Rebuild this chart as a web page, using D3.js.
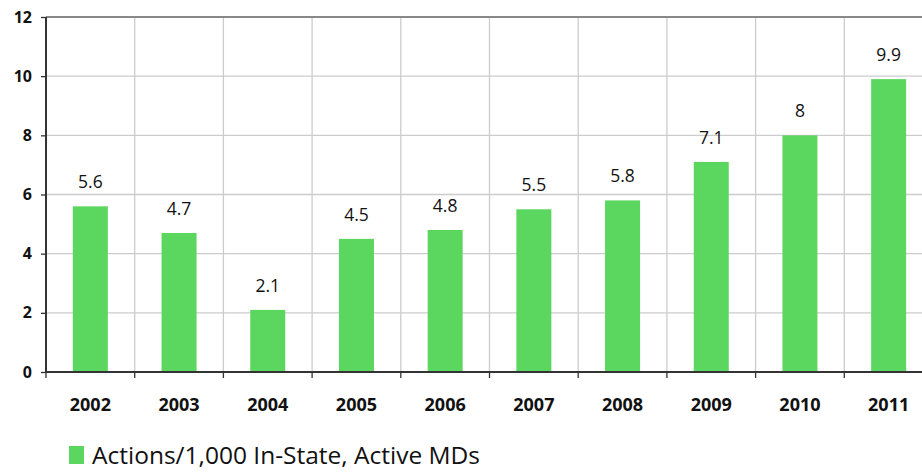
<!doctype html>
<html>
<head>
<meta charset="utf-8">
<script src="https://cdnjs.cloudflare.com/ajax/libs/d3/7.8.5/d3.min.js"></script>
<style>
  body { margin: 0; background: #fff; }
  svg { display: block; font-family: "Open Sans", "Noto Sans", sans-serif; }
</style>
</head>
<body>
<svg id="chart" width="922" height="473"></svg>
<script>
  // data
  var years = ["2002", "2003", "2004", "2005", "2006", "2007", "2008", "2009", "2010", "2011"];
  var actions = [5.6, 4.7, 2.1, 4.5, 4.8, 5.5, 5.8, 7.1, 8, 9.9];
  var yTicks = [0, 2, 4, 6, 8, 10, 12];
  var seriesName = "Actions/1,000 In-State, Active MDs";

  var svg = d3.select("#chart");
  // plot box (right edge runs past the picture, as in the reference)
  var plotLeft = 46, plotRight = 933, plotTop = 17, plotBottom = 372;
  var barColor = "#5bd65e";

  var x = d3.scaleBand().domain(years).range([plotLeft, plotRight]).paddingInner(0).paddingOuter(0);
  var y = d3.scaleLinear().domain([0, 12]).range([plotBottom, plotTop]);
  var barW = 35;

  // horizontal grid
  svg.append("g")
    .selectAll("line")
    .data(yTicks.filter(function(d) { return d > 0 && d < 12; }))
    .enter().append("line")
    .attr("x1", plotLeft).attr("x2", plotRight)
    .attr("y1", function(d) { return y(d); })
    .attr("y2", function(d) { return y(d); })
    .attr("stroke", "#cccccc").attr("stroke-width", 1.3);

  // vertical grid at band edges
  svg.append("g")
    .selectAll("line")
    .data(years.slice(1))
    .enter().append("line")
    .attr("x1", function(d) { return x(d); })
    .attr("x2", function(d) { return x(d); })
    .attr("y1", plotTop).attr("y2", plotBottom)
    .attr("stroke", "#cccccc").attr("stroke-width", 1.3);

  // top border line
  svg.append("line")
    .attr("x1", plotLeft).attr("x2", 922)
    .attr("y1", y(12)).attr("y2", y(12))
    .attr("stroke", "#888888").attr("stroke-width", 2);

  // bars
  svg.append("g")
    .selectAll("rect")
    .data(actions)
    .enter().append("rect")
    .attr("x", function(d, i) { return x(years[i]) + x.bandwidth() / 2 - barW / 2; })
    .attr("y", function(d) { return y(d); })
    .attr("width", barW)
    .attr("height", function(d) { return plotBottom - y(d); })
    .attr("fill", barColor);

  // value labels
  svg.append("g")
    .selectAll("text")
    .data(actions)
    .enter().append("text")
    .attr("x", function(d, i) { return x(years[i]) + x.bandwidth() / 2; })
    .attr("y", function(d) { return y(d) - 18; })
    .attr("text-anchor", "middle")
    .attr("font-size", "17.5px")
    .attr("fill", "#111")
    .text(function(d) { return d; });

  // y axis
  var yAxis = svg.append("g")
    .attr("transform", "translate(" + plotLeft + ",0)")
    .call(d3.axisLeft(y).tickValues(yTicks).tickSize(5).tickPadding(9).tickFormat(d3.format("d")));
  yAxis.select(".domain").attr("stroke", "#333").attr("stroke-width", 2)
    .attr("d", "M0," + plotTop + "V" + plotBottom);
  yAxis.selectAll(".tick line").attr("stroke", "#333").attr("stroke-width", 1.3);
  yAxis.selectAll(".tick text")
    .attr("font-size", "16px").attr("font-weight", "bold").attr("fill", "#111")
    .attr("font-family", "\"Open Sans\", sans-serif");

  // x axis: ticks at band edges, labels centred
  var xAxis = svg.append("g").attr("transform", "translate(0," + plotBottom + ")");
  xAxis.append("line")
    .attr("x1", plotLeft).attr("x2", plotRight)
    .attr("stroke", "#333").attr("stroke-width", 2);
  xAxis.selectAll("line.edge")
    .data(years)
    .enter().append("line")
    .attr("class", "edge")
    .attr("x1", function(d) { return x(d); })
    .attr("x2", function(d) { return x(d); })
    .attr("y1", 0).attr("y2", 6)
    .attr("stroke", "#333").attr("stroke-width", 1.3);
  xAxis.selectAll("text")
    .data(years)
    .enter().append("text")
    .attr("x", function(d) { return x(d) + x.bandwidth() / 2; })
    .attr("y", 39)
    .attr("text-anchor", "middle")
    .attr("font-size", "18px")
    .attr("font-weight", "bold")
    .attr("fill", "#111")
    .text(function(d) { return d; });

  // legend
  var legend = svg.append("g").attr("transform", "translate(69,446)");
  legend.append("rect").attr("width", 15).attr("height", 18).attr("fill", barColor);
  legend.append("text")
    .attr("x", 23).attr("y", 18)
    .attr("font-size", "24.5px")
    .attr("fill", "#111")
    .text(seriesName);
</script>
</body>
</html>
